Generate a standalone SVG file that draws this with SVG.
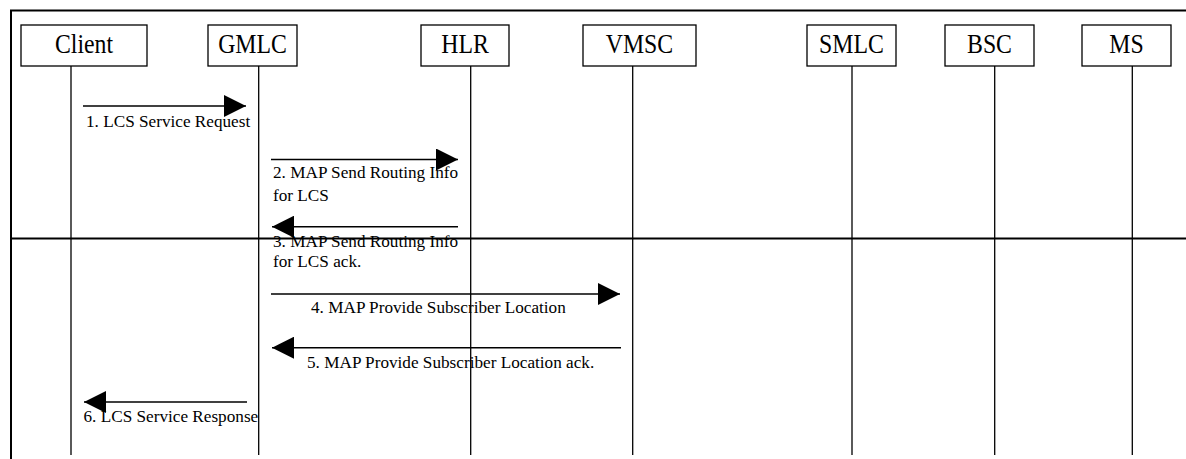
<svg xmlns="http://www.w3.org/2000/svg" width="1186" height="459" viewBox="0 0 1186 459">
<style>
.box{fill:#fff;stroke:#000;stroke-width:1.3}
.life{stroke:#000;stroke-width:1.3}
.frame{stroke:#000;stroke-width:2;fill:none}
.msg{stroke:#000;stroke-width:1.5;fill:none;marker-end:url(#ah)}
.nt{font-family:"Liberation Serif","Times New Roman",serif;font-size:28px;text-anchor:middle;fill:#000}
.lt{font-family:"Liberation Serif","Times New Roman",serif;font-size:17.2px;fill:#000}
</style>
<defs>
<marker id="ah" markerUnits="userSpaceOnUse" markerWidth="22" markerHeight="22" refX="22" refY="11" orient="auto" viewBox="0 0 22 22">
<path d="M0,0 L22,11 L0,22 z" fill="#000"/>
</marker>
</defs>
<g id="frame">
<path class="frame" d="M11,459 V10.5 H1186"/>
<path class="frame" d="M11,238.5 H1186"/>
</g>
<g id="lifelines">
<line class="life" x1="71" y1="66" x2="71" y2="455"/>
<line class="life" x1="258.7" y1="66" x2="258.7" y2="455"/>
<line class="life" x1="470.7" y1="66" x2="470.7" y2="455"/>
<line class="life" x1="632.7" y1="66" x2="632.7" y2="455"/>
<line class="life" x1="852" y1="66" x2="852" y2="455"/>
<line class="life" x1="994.7" y1="66" x2="994.7" y2="455"/>
<line class="life" x1="1132.3" y1="66" x2="1132.3" y2="455"/>
</g>
<g id="node-client"><rect class="box" x="21" y="25" width="126" height="41"/><text class="nt" transform="translate(84,53) scale(0.85,1)">Client</text></g>
<g id="node-gmlc"><rect class="box" x="208" y="25" width="89" height="41"/><text class="nt" transform="translate(252.5,53) scale(0.85,1)">GMLC</text></g>
<g id="node-hlr"><rect class="box" x="421" y="25" width="88" height="41"/><text class="nt" transform="translate(465,53) scale(0.85,1)">HLR</text></g>
<g id="node-vmsc"><rect class="box" x="583" y="25" width="113" height="41"/><text class="nt" transform="translate(639.5,53) scale(0.85,1)">VMSC</text></g>
<g id="node-smlc"><rect class="box" x="807" y="25" width="89" height="41"/><text class="nt" transform="translate(851.5,53) scale(0.85,1)">SMLC</text></g>
<g id="node-bsc"><rect class="box" x="945" y="25" width="89" height="41"/><text class="nt" transform="translate(989.5,53) scale(0.85,1)">BSC</text></g>
<g id="node-ms"><rect class="box" x="1082" y="25" width="89" height="41"/><text class="nt" transform="translate(1126.5,53) scale(0.85,1)">MS</text></g>
<g id="connectors">
<line class="msg" x1="83" y1="106" x2="246" y2="106"/>
<line class="msg" x1="271" y1="159.5" x2="458" y2="159.5"/>
<line class="msg" x1="458" y1="226.7" x2="272" y2="226.7"/>
<line class="msg" x1="271" y1="294" x2="620" y2="294"/>
<line class="msg" x1="621" y1="347.7" x2="272" y2="347.7"/>
<line class="msg" x1="247" y1="402" x2="84" y2="402"/>
</g>
<g id="labels">
<text class="lt" x="86" y="127">1. LCS Service Request</text>
<text class="lt" x="273" y="178">2. MAP Send Routing Info</text>
<text class="lt" x="273" y="200.5">for LCS</text>
<text class="lt" x="273" y="246.5">3. MAP Send Routing Info</text>
<text class="lt" x="273" y="266.7">for LCS ack.</text>
<text class="lt" x="311" y="313.3">4. MAP Provide Subscriber Location</text>
<text class="lt" x="307" y="367.7">5. MAP Provide Subscriber Location ack.</text>
<text class="lt" x="83.5" y="421.7">6. LCS Service Response</text>
</g>
</svg>
